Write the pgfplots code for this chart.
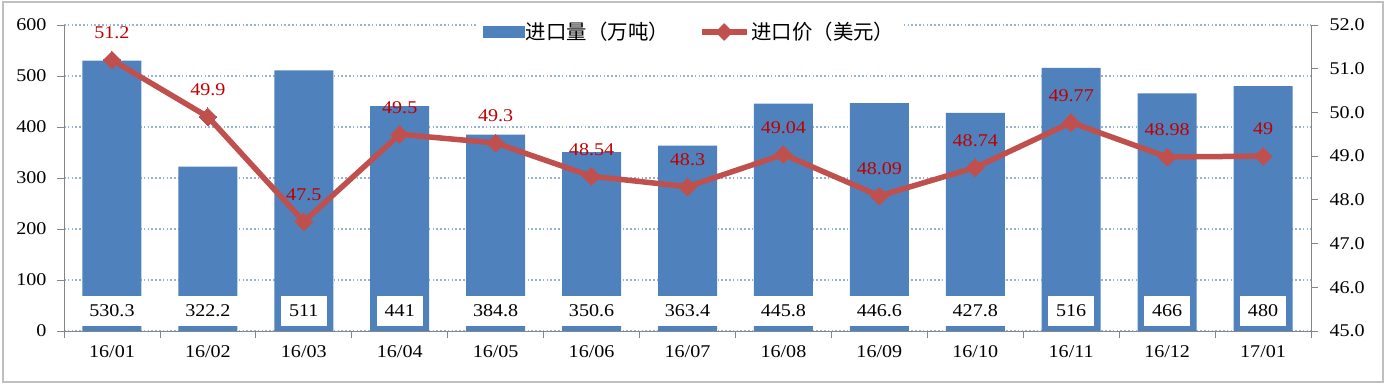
\documentclass[border=0pt]{standalone}
\usepackage{pgfplots}
\pgfplotsset{compat=1.18}
\usepackage{pgfplotstable}
\usepackage{fontspec}
\setmainfont{Liberation Serif}[FakeStretch=1.12]
\newfontfamily\cjk{Noto Sans CJK SC}
\definecolor{barblue}{RGB}{79,129,189}
\definecolor{linered}{RGB}{192,80,77}
\definecolor{labred}{RGB}{192,0,0}
\definecolor{gridblue}{RGB}{149,179,215}
\definecolor{axgray}{RGB}{134,134,134}
\definecolor{framegray}{RGB}{191,191,191}
\pgfplotstableread{
x vol price
0 530.3 51.2
1 322.2 49.9
2 511 47.5
3 441 49.5
4 384.8 49.3
5 350.6 48.54
6 363.4 48.3
7 445.8 49.04
8 446.6 48.09
9 427.8 48.74
10 516 49.77
11 466 48.98
12 480 49
}\data
\newcommand{\fs}{\fontsize{18}{21}\selectfont}
\begin{document}
\begin{tikzpicture}
\pgfplotsset{
  common/.style={
    scale only axis, width=1247bp, height=306bp,
    xmin=-0.5, xmax=12.5,
    tick align=outside, major tick length=7bp,
    ticklabel style={font=\fs},
    /pgf/number format/assume math mode=true,
    axis line style={draw=axgray, line width=0.8bp},
    tick style={draw=axgray, line width=0.8bp},
  }
}
\begin{axis}[common, name=ax,
  ymin=0, ymax=600, ytick={0,100,...,600},
  axis y line*=left, axis x line*=bottom,
  ymajorgrids,
  grid style={draw=gridblue, line width=1.3bp, dash pattern=on 1.6bp off 2.2bp},
  xtick={-0.5,0.5,1.5,2.5,3.5,4.5,5.5,6.5,7.5,8.5,9.5,10.5,11.5,12.5},
  xticklabels={},
  extra x ticks={0,1,2,3,4,5,6,7,8,9,10,11,12},
  extra x tick labels={16/01,16/02,16/03,16/04,16/05,16/06,16/07,16/08,16/09,16/10,16/11,16/12,17/01},
  extra x tick style={major tick length=0pt, xticklabel style={yshift=-11bp}},
  yticklabel style={xshift=-7bp},
]
\addplot[ybar, bar width=0.615, fill=barblue, draw=none] table[x=x, y=vol] {\data};
\addplot[draw=none, mark=none, nodes near coords, point meta=explicit symbolic,
  nodes near coords style={fill=white, anchor=center, font=\fs, text=black,
    inner xsep=8bp, minimum height=30bp}]
  table[x=x, y expr=40, meta=vol] {\data};
\end{axis}
\begin{axis}[common,
  ymin=45, ymax=52, ytick={45,46,...,52},
  axis y line*=right, axis x line=none,
  yticklabel style={xshift=8bp, /pgf/number format/.cd, fixed, fixed zerofill, precision=1},
  legend style={at={(0.5,1)}, anchor=center, yshift=-7bp, xshift=2bp, draw=none, fill=white,
    legend columns=2, font=\fontsize{20.5}{24}\selectfont\cjk, inner xsep=6bp,
    /tikz/every even column/.append style={column sep=28bp}},
  legend cell align=left,
]
\addlegendimage{legend image code/.code={\fill[barblue] (0bp,-5.5bp) rectangle (41bp,5.5bp);}}
\addlegendentry{进口量（万吨）}
\addlegendimage{legend image code/.code={
  \draw[linered, line width=5.5bp] (0bp,0bp) -- (45bp,0bp);
  \fill[linered, rotate around={45:(22.5bp,0bp)}] (16.5bp,-6bp) rectangle (28.5bp,6bp);}}
\addlegendentry{进口价（美元）}
\addplot[linered, line width=5.5bp, mark=square*, mark size=6.3pt,
  mark options={rotate=45, fill=linered, draw=linered, line width=0pt},
  nodes near coords, point meta=explicit symbolic,
  nodes near coords style={anchor=center, yshift=27bp, text=labred, font=\fs}]
  table[x=x, y=price, meta=price] {\data};
\end{axis}
\draw[framegray, line width=2bp] ([xshift=-61bp, yshift=-51bp]ax.south west) rectangle ([xshift=72bp, yshift=23bp]ax.north east);
\path ([xshift=-64bp, yshift=-53bp]ax.south west) rectangle ([xshift=75bp, yshift=25bp]ax.north east);
\end{tikzpicture}
\end{document}
